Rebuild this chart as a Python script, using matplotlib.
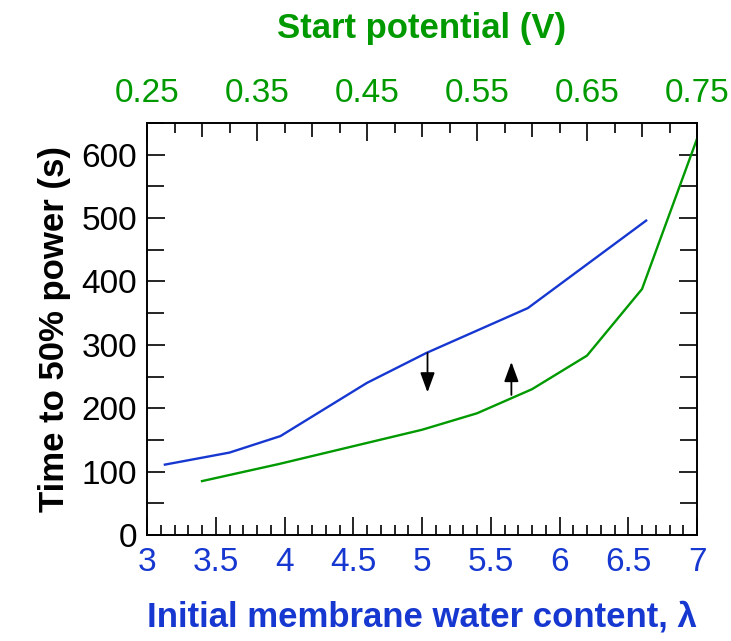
import matplotlib
matplotlib.use("Agg")
import matplotlib.pyplot as plt
from matplotlib.ticker import MultipleLocator

plt.rcParams["font.family"] = ["Liberation Sans", "DejaVu Sans"]

BLUE = "#1638d0"
GREEN = "#009a00"

# Time to 50 % power vs initial membrane water content (bottom axis)
lam = [3.13, 3.60, 3.97, 4.60, 5.03, 5.77, 6.63]
t_lam = [111, 130, 156, 240, 287, 358, 496]

# Time to 50 % power vs start potential (top axis)
volt = [0.30, 0.37, 0.50, 0.55, 0.60, 0.65, 0.70, 0.75]
t_volt = [85, 112, 166, 192, 230, 283, 388, 625]

# shift arrows: (x, y_start, y_end) in bottom-axis units
arrow_down = (5.04, 287, 225)
arrow_up = (5.65, 221, 273)

fig = plt.figure(figsize=(7.31, 6.41), dpi=100)
ax = fig.add_axes([0.2011, 0.1654, 0.7524, 0.6427])

ax.plot(lam, t_lam, color=BLUE, lw=1.7)
ax.set_xlim(3, 7)
ax.set_ylim(0, 650)

ax.xaxis.set_major_locator(MultipleLocator(0.5))
ax.xaxis.set_minor_locator(MultipleLocator(0.1))
ax.yaxis.set_major_locator(MultipleLocator(100))
ax.yaxis.set_minor_locator(MultipleLocator(50))
ax.xaxis.set_major_formatter(plt.FuncFormatter(lambda v, p: f"{v:g}"))

ax.tick_params(which="both", direction="in", right=True, width=1.2,
               labelsize=24, pad=7)
ax.tick_params(which="major", length=13)
ax.tick_params(axis="x", which="minor", length=7)
ax.tick_params(axis="y", which="minor", length=12)
ax.tick_params(axis="x", labelcolor=BLUE, pad=9)

for s in ax.spines.values():
    s.set_linewidth(1.2)

ax.set_ylabel("Time to 50% power (s)", fontsize=25, fontweight="bold", labelpad=8)
ax.set_xlabel("Initial membrane water content, λ", fontsize=25, fontweight="bold",
              color=BLUE, labelpad=16)

for x, y0, y1 in (arrow_down, arrow_up):
    ax.annotate("", xy=(x, y1), xytext=(x, y0),
                arrowprops=dict(arrowstyle="-|>,head_length=0.6,head_width=0.22",
                                color="black", lw=1.3,
                                mutation_scale=20, shrinkA=0, shrinkB=0))

# top axis: start potential
ax2 = ax.twiny()
ax2.plot(volt, t_volt, color=GREEN, lw=1.7)
ax2.set_xlim(0.25, 0.75)
ax2.xaxis.set_major_locator(MultipleLocator(0.1, offset=0.05))
ax2.xaxis.set_minor_locator(MultipleLocator(0.025))
ax2.xaxis.set_major_formatter(plt.FuncFormatter(lambda v, p: f"{v:.2f}"))
ax2.tick_params(which="both", direction="in", width=1.2, labelsize=24,
                labelcolor=GREEN, pad=10)
ax2.tick_params(which="major", length=13)
ax2.tick_params(which="minor", length=7)
# mid-length ticks at the unlabelled 0.05 steps
for tk, loc in zip(ax2.xaxis.get_minor_ticks(), ax2.xaxis.get_minorticklocs()):
    if abs(round(loc / 0.05) * 0.05 - loc) < 1e-6:
        tk.tick2line.set_markersize(10)
ax2.set_xlabel("Start potential (V)", fontsize=25, fontweight="bold",
               color=GREEN, labelpad=29)
for s in ax2.spines.values():
    s.set_linewidth(1.2)

fig.savefig("out.png", dpi=100)
